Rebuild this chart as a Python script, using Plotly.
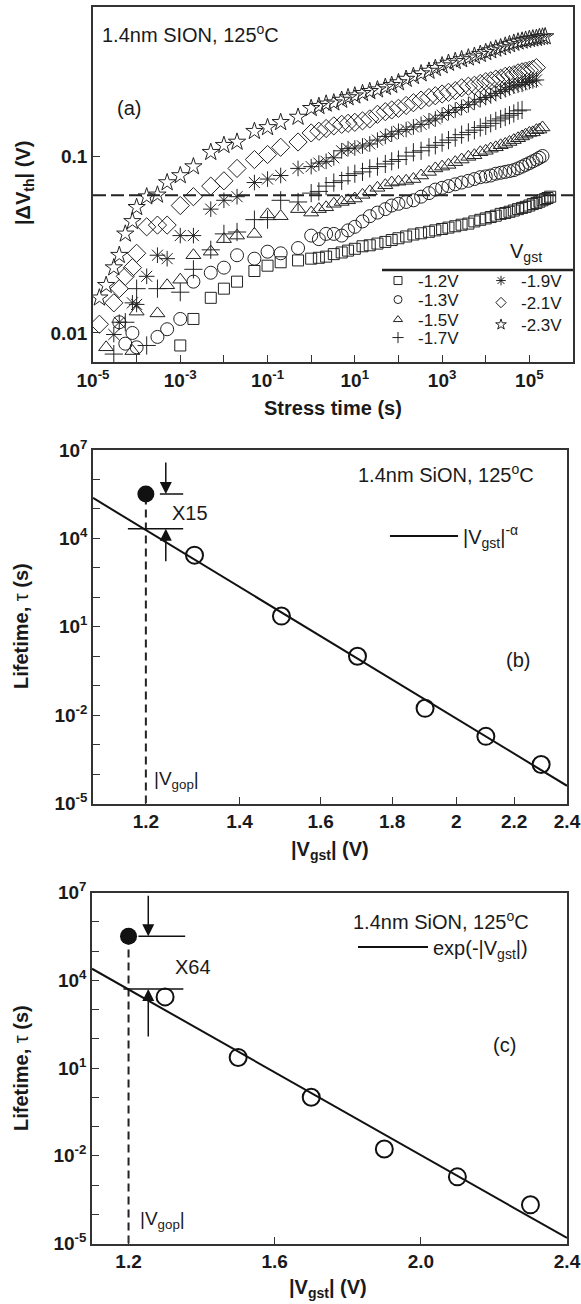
import numpy as np
import plotly.graph_objects as go

FONT = "Liberation Sans, Arial, sans-serif"
W, H = 581, 1304

# ---------------- (a) threshold-voltage shift vs stress time ----------------
T_STRESS = [
    1.4e-5, 2e-5, 3e-5, 4e-5, 5.5e-5, 8e-5, 1e-4, 1.7e-4, 3e-4, 5e-4,
    1e-3, 2e-3, 5e-3, 1e-2, 2e-2, 5e-2, 0.1, 0.2, 0.5,
    1, 1.5, 2.2, 3.3, 5, 7, 10, 15, 22, 33, 50, 70, 100, 150, 220, 330, 500, 700, 1000,
    1400, 2000, 2800, 4000, 5500, 7500, 1e4, 1.3e4, 1.7e4, 2.2e4, 2.8e4, 3.5e4, 4.4e4,
    5.5e4, 6.8e4, 8.2e4, 1e5, 1.2e5, 1.45e5, 1.7e5, 2e5, 2.3e5, 2.6e5, 3e5,
]

DV_12 = [
    None, None, None, None, None, None, None, None, None, None,
    0.0085, 0.0120, 0.0158, 0.0178, 0.0195, 0.0224, 0.0240, 0.0251, 0.0257,
    0.0263, 0.0266, 0.0270, 0.0279, 0.0285, 0.0292, 0.0299, 0.0309, 0.0313, 0.0320,
    0.0327, 0.0335, 0.0343, 0.0351, 0.0360, 0.0366, 0.0373, 0.0380, 0.0387,
    0.0394, 0.0401, 0.0409, 0.0415, 0.0427, 0.0436, 0.0444, 0.0452, 0.0460, 0.0471,
    0.0476, 0.0484, 0.0492, 0.0501, 0.0509, 0.0516, 0.0525, 0.0535, 0.0543, 0.0552,
    0.0562, 0.0571, 0.0579, 0.0589,
]
DV_13 = [
    None, None, None, 0.0115, 0.0087, 0.0100, 0.0083, None, 0.0095, 0.0105,
    0.0120, 0.0195, 0.0219, 0.0234, 0.0275, 0.0263, 0.0288, 0.0282, 0.0302,
    0.0355, 0.0339, 0.0363, 0.0363, 0.0355, 0.0380, 0.0398, 0.0427, 0.0457, 0.0479,
    0.0501, 0.0525, 0.0537, 0.0550, 0.0562, 0.0589, 0.0617, 0.0646, 0.0661,
    0.0676, 0.0692, 0.0708, 0.0724, 0.0741, 0.0759, 0.0767, 0.0776, 0.0794, 0.0804,
    0.0813, 0.0822, 0.0832, 0.0851, 0.0871, 0.0891, 0.0912, 0.0933, 0.0955, 0.0977,
    0.100, None, None, None,
]
DV_15 = [
    None, 0.0083, None, None, None, 0.0079, 0.0132, None, 0.0129, 0.0186,
    0.0200, 0.0275, 0.0288, 0.0339, 0.0355, 0.0363, 0.0468, 0.0457, 0.0501,
    0.0479, 0.0501, 0.0513, 0.0537, 0.0550, 0.0562, 0.0575, 0.0603, 0.0631, 0.0661,
    0.0684, 0.0708, 0.0716, 0.0724, 0.0741, 0.0776, 0.0813, 0.0851, 0.0871,
    0.0891, 0.0923, 0.0955, 0.0989, 0.101, 0.105, 0.107, 0.110, 0.112, 0.115,
    0.117, 0.120, 0.123, 0.126, 0.129, 0.132, 0.135, 0.136, 0.140, 0.141,
    0.145, None, None, None,
]
DV_17 = [
    None, None, 0.0076, None, 0.0115, None, 0.0178, 0.0085, 0.0178, None,
    0.0170, 0.0229, 0.0295, 0.0363, 0.0372, 0.0437, 0.0437, 0.0562, 0.0550,
    0.0617, 0.0631, 0.0676, 0.0708, 0.0724, 0.0776, 0.0794, 0.0813, 0.0851, 0.0871,
    0.0902, 0.0933, 0.0955, 0.100, 0.105, 0.107, 0.112, 0.115, 0.119,
    0.123, 0.127, 0.132, 0.136, 0.140, 0.145, 0.148, 0.153, 0.158, 0.162,
    0.166, 0.170, 0.174, 0.180, 0.182, None, None, None, None, None,
    None, None, None, None,
]
DV_19 = [
    None, None, 0.0098, 0.0115, None, 0.0148, 0.0145, 0.0209, 0.0275, 0.0263,
    0.0355, 0.0355, 0.0501, 0.0562, 0.0589, 0.0708, 0.0741, 0.0776, 0.0851,
    0.0871, 0.0912, 0.0933, 0.0977, 0.107, 0.110, 0.111, 0.114, 0.117, 0.123,
    0.129, 0.133, 0.138, 0.141, 0.146, 0.151, 0.158, 0.162, 0.170,
    0.176, 0.182, 0.188, 0.195, 0.202, 0.209, 0.214, 0.219, 0.226, 0.232,
    0.237, 0.243, 0.248, 0.251, 0.254, 0.260, 0.263, 0.266, 0.269, None,
    None, None, None, None,
]
DV_21 = [
    0.0112, None, 0.0148, 0.0178, 0.0209, 0.0234, 0.0282, 0.0398, 0.0407, 0.0407,
    0.0525, 0.0589, 0.0676, 0.0724, 0.0851, 0.0955, 0.102, 0.112, 0.120,
    0.135, 0.138, 0.143, 0.148, 0.151, 0.153, 0.155, 0.158, 0.162, 0.172,
    0.178, 0.182, 0.186, 0.193, 0.200, 0.207, 0.214, 0.219, 0.224,
    0.229, 0.234, 0.243, 0.248, 0.251, 0.257, 0.263, 0.266, 0.272, 0.275,
    0.282, 0.285, 0.288, 0.295, 0.299, 0.302, 0.305, 0.309, 0.316, None,
    None, None, None, None,
]
DV_23 = [
    0.0158, 0.0186, 0.0234, 0.0275, 0.0363, 0.0427, 0.0513, 0.0589, 0.0603, 0.0708,
    0.0776, 0.0871, 0.105, 0.115, 0.120, 0.138, 0.145, 0.155, 0.166,
    0.186, 0.191, 0.197, 0.200, 0.207, 0.214, 0.219, 0.226, 0.232, 0.237,
    0.245, 0.251, 0.260, 0.272, 0.282, 0.292, 0.302, 0.313, 0.324,
    0.335, 0.343, 0.351, 0.359, 0.367, 0.376, 0.385, 0.394, 0.403, 0.410,
    0.419, 0.427, 0.435, 0.442, 0.447, 0.452, 0.457, 0.460, 0.463, 0.468,
    0.471, 0.473, None, None,
]
DV_FAIL = 0.06          # failure criterion |dVth| (V)

VGST_LABELS = ["-1.2V", "-1.3V", "-1.5V", "-1.7V", "-1.9V", "-2.1V", "-2.3V"]

# ---------------- (b), (c) lifetime vs stress voltage ----------------
V_STRESS = [1.3, 1.5, 1.7, 1.9, 2.1, 2.3]
TAU = [2700, 23, 1.0, 0.017, 0.0019, 2.1e-4]
V_OP = 1.2
TAU_OP = 3.2e5
GAIN_POWER = 15
GAIN_EXP = 64

X_A_RANGE = [-5, 6]
Y_A_RANGE = [-2.164, -0.158]
V_MIN, V_MAX = 1.1, 2.4
TAU_RANGE = [-5, 7]

series = [DV_12, DV_13, DV_15, DV_17, DV_19, DV_21, DV_23]
for s in series:
    assert len(s) == len(T_STRESS)

symbols = ["square-open", "circle-open", "triangle-up-open", "cross-thin-open",
           "asterisk-open", "diamond-open", "star-open"]
sizes = [11, 13, 13, 13, 13, 14, 13]
# legend keys: one small legend per key so rows can sit close together
key_pos = [(378, 281), (378, 300), (378, 320), (378, 338),
           (481, 281), (481, 303), (481, 325)]


def px(x):
    return x / W


def py(y):
    return 1 - y / H


fig = go.Figure()

# failure criterion line
fig.add_trace(go.Scatter(
    x=[10 ** X_A_RANGE[0], 10 ** X_A_RANGE[1]], y=[DV_FAIL, DV_FAIL],
    mode="lines", line=dict(color="#222", width=2.2, dash="13px,5px"),
    showlegend=False, xaxis="x", yaxis="y", hoverinfo="skip"))

legend_layout = {}
for i, (name, vals, sym, sz) in enumerate(zip(VGST_LABELS, series, symbols, sizes)):
    lg = "legend" if i == 0 else f"legend{i + 1}"
    fig.add_trace(go.Scatter(
        x=T_STRESS, y=vals, mode="markers", name=name, showlegend=False,
        marker=dict(symbol=sym, size=sz, color="#222",
                    line=dict(color="#222", width=1)),
        xaxis="x", yaxis="y"))
    fig.add_trace(go.Scatter(
        x=[None], y=[None], mode="markers", name=name, legend=lg,
        marker=dict(symbol=sym, size=8, color="#222",
                    line=dict(color="#222", width=1)),
        xaxis="x", yaxis="y"))
    kx, ky = key_pos[i]
    legend_layout[lg] = dict(x=px(kx), y=py(ky), xanchor="left", yanchor="middle",
                             bgcolor="rgba(0,0,0,0)", itemwidth=30,
                             font=dict(family=FONT, size=17, color="#1a1a1a"))

# ---------- lifetime fits ----------
logv = np.log10(V_STRESS)
logt = np.log10(TAU)
p_pow = np.polyfit(logv, logt, 1)
p_exp = np.polyfit(V_STRESS, logt, 1)
v_line = np.array([V_MIN, V_MAX])
tau_pow = 10 ** np.polyval(p_pow, np.log10(v_line))
tau_exp = 10 ** np.polyval(p_exp, v_line)


def lifetime_panel(xa, ya, tau_fit, fit_name, legend_name, gain,
                   bar_hi, bar_lo, arrow_x, ay_hi, ay_lo):
    fig.add_trace(go.Scatter(
        x=[V_OP, V_OP], y=[10 ** TAU_RANGE[0], TAU_OP], mode="lines",
        line=dict(color="#222", width=2, dash="8px,5px"),
        showlegend=False, xaxis=xa, yaxis=ya, hoverinfo="skip"))
    fig.add_trace(go.Scatter(
        x=v_line, y=tau_fit, mode="lines", name=fit_name, legend=legend_name,
        line=dict(color="#111", width=2), xaxis=xa, yaxis=ya))
    fig.add_trace(go.Scatter(
        x=V_STRESS, y=TAU, mode="markers", showlegend=False,
        marker=dict(symbol="circle-open", size=17, color="#111",
                    line=dict(color="#111", width=2)),
        xaxis=xa, yaxis=ya))
    fig.add_trace(go.Scatter(
        x=[V_OP], y=[TAU_OP], mode="markers", showlegend=False,
        marker=dict(symbol="circle", size=17, color="#111"),
        xaxis=xa, yaxis=ya))
    for (x0, x1), lvl in ((bar_hi, TAU_OP), (bar_lo, TAU_OP / gain)):
        fig.add_trace(go.Scatter(
            x=[x0, x1], y=[lvl, lvl], mode="lines", showlegend=False,
            line=dict(color="#111", width=1.6), xaxis=xa, yaxis=ya,
            hoverinfo="skip"))
    return [(arrow_x, TAU_OP, ay_hi), (arrow_x, TAU_OP / gain, ay_lo)]


arrows_b = lifetime_panel("x2", "y2", tau_pow, "|V<sub>gst</sub>|<sup>-α</sup>",
                          "legend8", GAIN_POWER, (1.228, 1.276), (1.165, 1.276),
                          1.240, -33, 34)
arrows_c = lifetime_panel("x3", "y3", tau_exp, "exp(-|V<sub>gst</sub>|)",
                          "legend9", GAIN_EXP, (1.227, 1.355), (1.186, 1.350),
                          1.254, -42, 49)

legend_layout["legend8"] = dict(x=px(385), y=py(536), xanchor="left", yanchor="middle",
                                bgcolor="rgba(0,0,0,0)", itemwidth=68,
                                font=dict(family=FONT, size=20, color="#1a1a1a"))
legend_layout["legend9"] = dict(x=px(353), y=py(947), xanchor="left", yanchor="middle",
                                bgcolor="rgba(0,0,0,0)", itemwidth=70,
                                font=dict(family=FONT, size=20, color="#1a1a1a"))

annotations = []
for (ax_x, lvl, ay), xr, yr, logx in [(a, "x2", "y2", True) for a in arrows_b] + \
        [(a, "x3", "y3", False) for a in arrows_c]:
    annotations.append(dict(
        x=np.log10(ax_x) if logx else ax_x, y=np.log10(lvl), xref=xr, yref=yr,
        ax=0, ay=ay, showarrow=True, arrowhead=2, arrowsize=1.6, arrowwidth=1.5,
        arrowcolor="#111", text=""))


def label(text, x, y, size=20, xanchor="left", **kw):
    annotations.append(dict(text=text, x=px(x), y=py(y), xref="paper", yref="paper",
                            xanchor=xanchor, yanchor="middle", showarrow=False,
                            font=dict(family=FONT, size=size, color="#1a1a1a"), **kw))


label("1.4nm SION, 125<sup>o</sup>C", 100, 33)
label("(a)", 129, 108, xanchor="center")
label("V<sub>gst</sub>", 526, 253, xanchor="center")
label("1.4nm SiON, 125<sup>o</sup>C", 356, 473)
label("X15", 190, 513, xanchor="center")
label("|V<sub>gop</sub>|", 152, 780, size=19)
label("(b)", 518, 660, xanchor="center")
label("1.4nm SiON, 125<sup>o</sup>C", 351, 920)
label("X64", 193, 967, xanchor="center")
label("|V<sub>gop</sub>|", 138, 1220, size=19)
label("(c)", 504, 1045, xanchor="center")

# axis titles
label("<b>|ΔV<sub>th</sub>| (V)</b>", 24, 183, size=20, xanchor="center", textangle=-90)
label("<b>Stress time (s)</b>", 333, 408, size=20, xanchor="center")
label("<b>Lifetime,</b> τ <b>(s)</b>", 21, 626, size=20, xanchor="center", textangle=-90)
label("<b>|V<sub>gst</sub>| (V)</b>", 330, 850, size=20, xanchor="center")
label("<b>Lifetime,</b> τ <b>(s)</b>", 21, 1068, size=20, xanchor="center", textangle=-90)
label("<b>|V<sub>gst</sub>| (V)</b>", 328, 1288, size=20, xanchor="center")

axis_common = dict(showline=True, linecolor="#333", linewidth=1.5, mirror=True,
                   ticks="inside", ticklen=7, tickcolor="#333", tickwidth=1.3,
                   showgrid=False, zeroline=False, automargin=False,
                   tickfont=dict(family=FONT, size=19, color="#1a1a1a"))

a_decades = list(range(-5, 6))
b_decades = list(range(-5, 8))

fig.update_layout(
    template="none",
    width=W, height=H, autosize=False,
    margin=dict(l=0, r=0, t=0, b=0, pad=0),
    paper_bgcolor="white", plot_bgcolor="white",
    font=dict(family=FONT, color="#1a1a1a"),
    xaxis=dict(axis_common, type="log", range=X_A_RANGE, domain=[px(93), px(573)],
               anchor="y", tickvals=[10.0 ** d for d in a_decades],
               ticktext=[f"<b>10<sup>{d}</sup></b>" if d % 2 else "" for d in a_decades]),
    yaxis=dict(axis_common, type="log", range=Y_A_RANGE, domain=[py(362), py(7)],
               anchor="x", tickvals=[0.01, 0.1], ticktext=["<b>0.01</b>", "<b>0.1</b>"]),
    xaxis2=dict(axis_common, type="log", range=[np.log10(V_MIN), np.log10(V_MAX)],
                domain=[px(93), px(567)], anchor="y2",
                tickvals=[1.2, 1.4, 1.6, 1.8, 2.0, 2.2, 2.4],
                ticktext=["<b>1.2</b>", "<b>1.4</b>", "<b>1.6</b>", "<b>1.8</b>",
                          "<b>2</b>", "<b>2.2</b>", "<b>2.4</b>"]),
    yaxis2=dict(axis_common, type="log", range=TAU_RANGE, domain=[py(803.5), py(450)],
                anchor="x2", tickvals=[10.0 ** d for d in b_decades],
                ticktext=[f"<b>10<sup>{d}</sup></b>" if d % 3 == 1 else ""
                          for d in b_decades]),
    xaxis3=dict(axis_common, type="linear", range=[V_MIN, V_MAX],
                domain=[px(92), px(567)], anchor="y3",
                tickvals=[1.2, 1.6, 2.0, 2.4],
                ticktext=["<b>1.2</b>", "<b>1.6</b>", "<b>2.0</b>", "<b>2.4</b>"]),
    yaxis3=dict(axis_common, type="log", range=TAU_RANGE, domain=[py(1243.5), py(892.5)],
                anchor="x3", tickvals=[10.0 ** d for d in b_decades],
                ticktext=[f"<b>10<sup>{d}</sup></b>" if d % 3 == 1 else ""
                          for d in b_decades]),
    annotations=annotations,
    shapes=[dict(type="line", xref="paper", yref="paper", x0=px(382), x1=px(573),
                 y0=py(270), y1=py(270), line=dict(color="#222", width=2.5))],
    **legend_layout,
)

fig.write_html("out.html")
